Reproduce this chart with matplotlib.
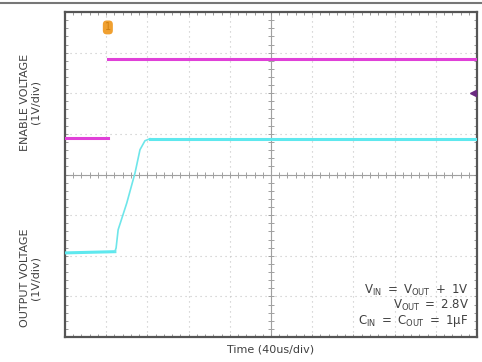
import matplotlib.pyplot as plt
import numpy as np

# scope trace, in divisions (x: 0..10, y: 0..8 from bottom)
enable_low_t = [0.0, 1.04]
enable_low_v = [4.90, 4.90]
enable_high_t = [1.04, 10.0]
enable_high_v = [6.85, 6.85]

output_t = [0.0, 1.21, 1.24, 1.29, 1.50, 1.70, 1.82, 1.94, 2.06, 10.0]
output_v = [2.07, 2.10, 2.19, 2.64, 3.30, 4.04, 4.61, 4.83, 4.88, 4.88]

notes = [r'$\mathregular{V_{IN}\ =\ V_{OUT}\ +\ 1V}$',
         r'$\mathregular{V_{OUT}\ =\ 2.8V}$',
         r'$\mathregular{C_{IN}\ =\ C_{OUT}\ =\ 1\mu F}$']

fig = plt.figure(figsize=(4.82, 3.62), dpi=100)
ax = fig.add_axes([65/482, 1-337/362, 412/482, 325/362])
ax.set_xlim(0, 10)
ax.set_ylim(0, 8)

# dotted graticule
for i in range(1, 10):
    ax.axvline(i, color='#c4c4c4', lw=0.8, ls=(0, (1, 3.5)), zorder=1)
for j in range(1, 8):
    ax.axhline(j, color='#c4c4c4', lw=0.8, ls=(0, (1, 3.5)), zorder=1)
# center cross with minor ticks
ax.axvline(5, color='#a0a0a0', lw=0.8, zorder=1)
ax.axhline(4, color='#a0a0a0', lw=0.8, zorder=1)
xt = np.arange(0, 10.01, 0.2)
yt = np.arange(0, 8.01, 0.2)
ax.plot(xt, np.full_like(xt, 4), ls='none', marker='|', ms=4, color='#a0a0a0', mew=0.7)
ax.plot(np.full_like(yt, 5), yt, ls='none', marker='_', ms=4, color='#a0a0a0', mew=0.7)
ax.plot(xt, np.full_like(xt, 7.97), ls='none', marker='|', ms=2.5, color='#888888', mew=0.6)
ax.plot(xt, np.full_like(xt, 0.03), ls='none', marker='|', ms=2.5, color='#888888', mew=0.6)
ax.plot(np.full_like(yt, 0.03), yt, ls='none', marker='_', ms=2.5, color='#888888', mew=0.6)
ax.plot(np.full_like(yt, 9.97), yt, ls='none', marker='_', ms=2.5, color='#888888', mew=0.6)

ax.plot(enable_low_t, enable_low_v, color='#e040d8', lw=2.2, zorder=3)
ax.plot(enable_high_t, enable_high_v, color='#e040d8', lw=2.2, zorder=3)
ax.plot(output_t[:2], output_v[:2], color='#5ee8ee', lw=2.2, zorder=3)
ax.plot(output_t[1:-1], output_v[1:-1], color='#6ee6ea', lw=1.2, zorder=3)
ax.plot(output_t[-2:], output_v[-2:], color='#5ee8ee', lw=2.2, zorder=3)

# trigger / channel markers
ax.text(1.04, 7.62, '1', fontsize=7, color='#d08010', ha='center', va='center', zorder=5,
        bbox=dict(boxstyle='round,pad=0.2,rounding_size=0.4', fc='#f0a030', ec='none'))
ax.plot([9.9], [6.0], marker='<', ms=4, color='#6a2a80', zorder=4)

for k, s in enumerate(notes):
    ax.text(9.8, 1.15 - k * 0.38, s, fontsize=8.5, color='#404040', ha='right', va='center')

ax.set_xticks([])
ax.set_yticks([])
for sp in ax.spines.values():
    sp.set_color('#555555')
    sp.set_linewidth(1.6)

lab = dict(fontsize=8, color='#404040', rotation=90, ha='center', va='center', linespacing=1.1)
fig.text(271/482, 1-350/362, 'Time (40us/div)', fontsize=8, color='#404040', ha='center', va='center')
fig.text(30/482, 1-102/362, 'ENABLE VOLTAGE\n(1V/div)', **lab)
fig.text(30/482, 1-278/362, 'OUTPUT VOLTAGE\n(1V/div)', **lab)

fig.add_artist(plt.Line2D([0, 1], [1-3/362, 1-3/362], color='#777777', lw=1.5))

fig.savefig('out.png', dpi=100)
